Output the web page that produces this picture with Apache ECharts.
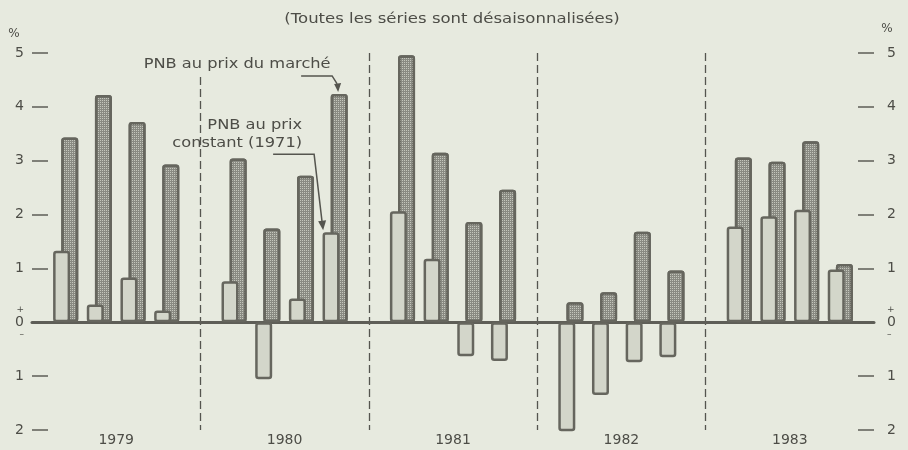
<!DOCTYPE html>
<html>
<head>
<meta charset="utf-8">
<script src="https://cdn.jsdelivr.net/npm/echarts@6/dist/echarts.min.js"></script>
<style>
  html, body { margin: 0; padding: 0; background: #e7eadf; }
  #myChart { width: 908px; height: 450px; }
</style>
</head>
<body>
<div id="myChart"></div>
<script>
// Variation trimestrielle du PNB, en %
const years = ['1979', '1980', '1981', '1982', '1983'];
const quarters = ['T1', 'T2', 'T3', 'T4'];
// PNB au prix constant (1971)
const prixConstant = [1.33, 0.33, 0.83, 0.22, 0.76, -1.06, 0.44, 1.67, 2.06, 1.18, -0.63, -0.72, -2.13, -1.35, -0.74, -0.65, 1.78, 1.97, 2.09, 0.98];
// PNB au prix du marché
const prixMarche = [3.43, 4.22, 3.72, 2.93, 3.04, 1.74, 2.72, 4.24, 4.96, 3.15, 1.86, 2.46, 0.37, 0.56, 1.68, 0.96, 3.06, 2.98, 3.36, 1.08];
const yMin = -2;
const yMax = 5;
const titre = '(Toutes les séries sont désaisonnalisées)';

const textColor = '#4d4d47';
const lineColor = '#5e5e57';
const bgColor = '#e7eadf';
const font = 'DejaVu Sans';

// une case vide entre chaque année (ligne pointillée)
let slots = [];
let constData = [];
let marcheData = [];
years.forEach((y, i) => {
  slots.push('sep' + i);
  constData.push(null);
  marcheData.push(null);
  quarters.forEach((q, j) => {
    slots.push(y + ' ' + q);
    constData.push(prixConstant[i * 4 + j]);
    marcheData.push(prixMarche[i * 4 + j]);
  });
});
slots.push('fin');
constData.push(null);
marcheData.push(null);

function yLabel(v) {
  if (v === 0) return '{s|+}\n0\n{s|–}';
  return String(Math.abs(v));
}

function yAxisOpt(pos) {
  return {
    type: 'value',
    position: pos,
    min: yMin,
    max: yMax,
    interval: 1,
    name: '%',
    nameLocation: 'end',
    nameGap: pos === 'left' ? 13 : 18,
    nameTextStyle: {
      color: textColor, fontFamily: font, fontSize: 12, align: 'center',
      padding: pos === 'left' ? [0, 36, 0, 0] : [0, 0, 0, 26]
    },
    splitLine: { show: false },
    axisLine: { show: false },
    axisTick: { show: true, inside: true, length: 16, lineStyle: { color: lineColor, width: 1.5 } },
    axisLabel: {
      color: textColor, fontFamily: font, fontSize: 14, lineHeight: 14,
      margin: pos === 'left' ? 8 : 13,
      formatter: yLabel,
      rich: { s: { fontSize: 9, lineHeight: 11, color: textColor } }
    }
  };
}

const barBorder = { borderColor: '#66665e', borderWidth: 2.5, borderRadius: 2 };

let option = {
  backgroundColor: bgColor,
  animation: false,
  grid: { left: 32, right: 34, top: 53, bottom: 20 },
  xAxis: [
    {
      // trimestres
      type: 'category',
      data: slots,
      position: 'top',
      boundaryGap: false,
      axisLine: { show: true, onZero: true, lineStyle: { color: lineColor, width: 3 } },
      axisTick: { show: false },
      axisLabel: { show: false },
      splitLine: {
        show: true,
        interval: (idx) => idx % 5 === 0 && idx > 0 && idx < slots.length - 1,
        lineStyle: { color: '#55554f', width: 1.3, type: [8, 4] }
      }
    },
    {
      // années
      type: 'category',
      data: years,
      position: 'bottom',
      boundaryGap: true,
      axisLine: { show: false, onZero: false },
      axisTick: { show: false },
      splitLine: { show: false },
      axisLabel: { color: textColor, fontFamily: font, fontSize: 14, margin: 3 }
    }
  ],
  yAxis: [yAxisOpt('left'), yAxisOpt('right')],
  series: [
    {
      name: 'PNB au prix constant (1971)',
      type: 'bar',
      xAxisIndex: 0,
      yAxisIndex: 0,
      z: 3,
      barWidth: 17,
      barGap: '-52%',
      itemStyle: Object.assign({ color: '#d3d6ca' }, barBorder),
      data: constData
    },
    {
      name: 'PNB au prix du marché',
      type: 'bar',
      xAxisIndex: 0,
      yAxisIndex: 0,
      z: 2,
      barWidth: 17,
      barGap: '-52%',
      itemStyle: Object.assign({
        color: '#898a82',
        decal: {
          symbol: 'rect',
          symbolSize: 1,
          dashArrayX: [1, 1],
          dashArrayY: [1, 1],
          rotation: 0,
          color: '#c4c6bc'
        }
      }, barBorder),
      data: marcheData
    }
  ]
};

let myChart = echarts.init(document.getElementById('myChart'), null, { renderer: 'canvas' });
myChart.setOption(option);

// annotations (flèches vers les barres du 4e trimestre 1980)
const idx = slots.indexOf('1980 T4');
const pM = myChart.convertToPixel({ xAxisIndex: 0, yAxisIndex: 0 }, [idx, prixMarche[7]]);
const pC = myChart.convertToPixel({ xAxisIndex: 0, yAxisIndex: 0 }, [idx, prixConstant[7]]);
const bx = pM[0] + 4, by = pM[1];
const cx = pC[0] - 4, cy = pC[1];
const arrowStyle = { stroke: '#55554f', lineWidth: 1.5, fill: null };
const headStyle = { fill: '#55554f' };
const annText = { fill: textColor, font: '14px "DejaVu Sans"', verticalAlign: 'middle' };
const stretch = 1.16;

myChart.setOption({
  graphic: [
    { type: 'text', z: 100, x: 452, y: 19, scaleX: 1.18, style: Object.assign({ text: titre, align: 'center' }, annText) },
    { type: 'text', z: 100, x: bx - 102, y: by - 30, scaleX: stretch,
      style: Object.assign({ text: 'PNB au prix du marché', align: 'center', backgroundColor: bgColor, padding: [4, 2] }, annText) },
    { type: 'polyline', z: 100, shape: { points: [[bx - 38, by - 18], [bx - 7, by - 18], [bx - 2, by - 10]] }, style: arrowStyle },
    { type: 'polygon', z: 100, shape: { points: [[bx - 1, by - 2], [bx - 5, by - 10], [bx + 2, by - 11]] }, style: headStyle },
    { type: 'text', z: 100, x: cx - 29, y: cy - 107, scaleX: stretch, style: Object.assign({ text: 'PNB au prix', align: 'right' }, annText) },
    { type: 'text', z: 100, x: cx - 29, y: cy - 89, scaleX: stretch, style: Object.assign({ text: 'constant (1971)', align: 'right' }, annText) },
    { type: 'polyline', z: 100, shape: { points: [[cx - 58, cy - 78], [cx - 17, cy - 78], [cx - 9, cy - 10]] }, style: arrowStyle },
    { type: 'polygon', z: 100, shape: { points: [[cx - 8, cy - 2], [cx - 13, cy - 11], [cx - 5, cy - 12]] }, style: headStyle }
  ]
});
</script>
</body>
</html>
